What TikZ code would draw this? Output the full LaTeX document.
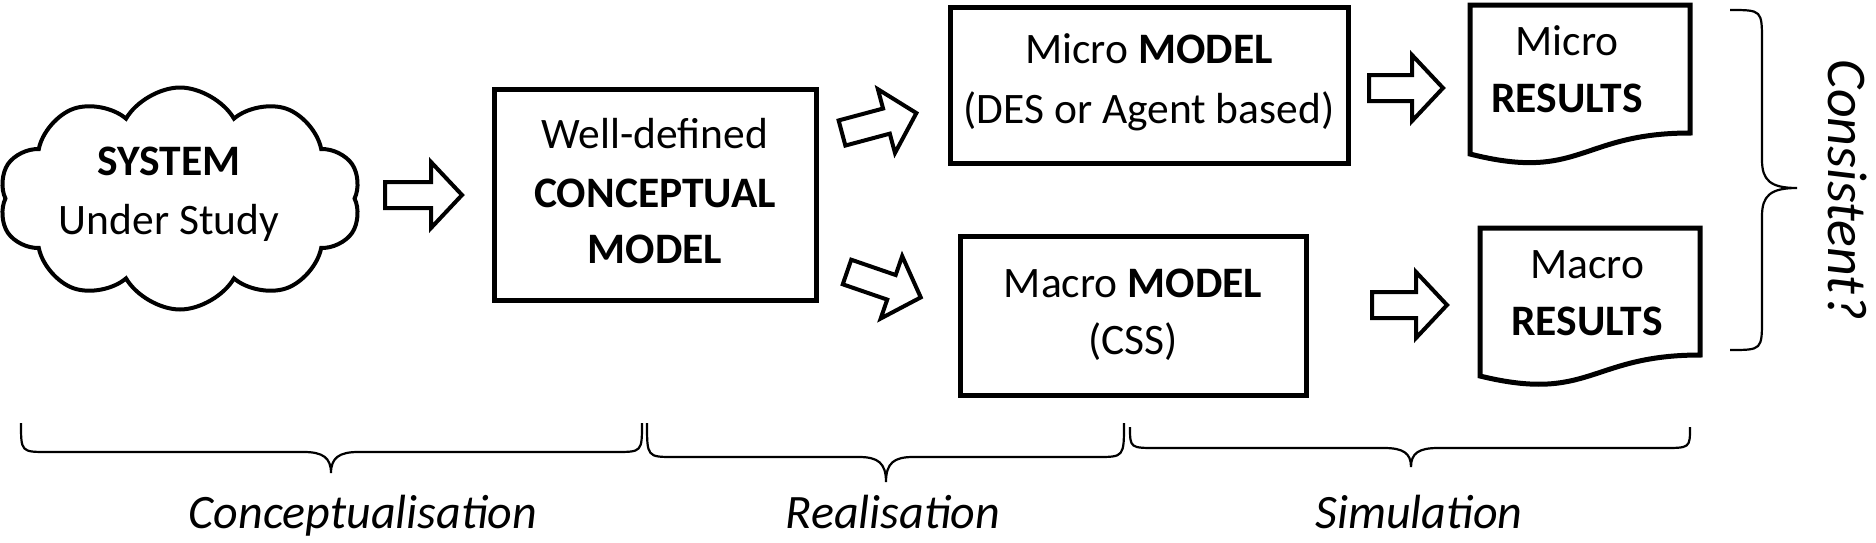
\documentclass[tikz,border=0pt]{standalone}
\usepackage{fontspec}
\setmainfont{Carlito}
\usetikzlibrary{shapes.symbols}
\newcommand\blockarrow[3]{\draw[blk, shift={(#1)}, rotate=#2] (0,-13) -- ({#3-31},-13) -- ({#3-31},-33) -- (#3,0) -- ({#3-31},33) -- ({#3-31},13) -- (0,13) -- cycle;}
\begin{document}
\begin{tikzpicture}[x=1pt,y=-1pt,
  box/.style={draw, line width=5pt, inner sep=0pt},
  doc/.style={draw, line width=5pt, line join=miter},
  blk/.style={draw, line width=4pt, line join=miter},
  brc/.style={draw, line width=2.2pt},
  lbl/.style={font=\fontsize{43.5}{52}\selectfont, anchor=base, inner sep=0pt},
  phase/.style={font=\fontsize{48}{56}\selectfont\itshape, anchor=base, inner sep=0pt}]
\useasboundingbox[fill=white] (0,0) rectangle (1876,542);

% cloud
\node[cloud, draw, line width=4pt, cloud puffs=10, cloud puff arc=120, aspect=1.6,
      minimum width=362pt, minimum height=222pt, inner sep=0pt] (sys) at (180,198.5) {};
\node[lbl] (sysa) at (169,175.5) {\textbf{SYSTEM}};
\node[lbl] (sysb) at (169,234) {Under Study};

% conceptual model
\node[box, minimum width=322pt, minimum height=211pt] (cm) at (655,194.5) {};
\node[lbl] (cma) at (655,148) {Well-defined};
\node[lbl] (cmb) at (655,207) {\textbf{CONCEPTUAL}};
\node[lbl] (cmc) at (655,263) {\textbf{MODEL}};

% micro model
\node[box, minimum width=398pt, minimum height=156pt] (mi) at (1149,85) {};
\node[lbl] (mia) at (1149,63) {Micro \textbf{MODEL}};
\node[lbl] (mib) at (1149,123) {(DES or Agent based)};

% macro model
\node[box, minimum width=346pt, minimum height=159pt] (ma) at (1133,315.5) {};
\node[lbl] (maa) at (1133,297) {Macro \textbf{MODEL}};
\node[lbl] (mab) at (1133,354) {(CSS)};

% results documents
\draw[doc] (1470,5) -- (1690,5) -- (1690,133) .. controls (1580,133) and (1580,182) .. (1470,154) -- cycle;
\node[lbl] (mra) at (1567,55) {Micro};
\node[lbl] (mrb) at (1567,112) {\textbf{RESULTS}};
\draw[doc] (1480,228) -- (1700,228) -- (1700,355) .. controls (1590,355) and (1590,403) .. (1480,376) -- cycle;
\node[lbl] (mca) at (1587,278) {Macro};
\node[lbl] (mcb) at (1587,335) {\textbf{RESULTS}};

% block arrows
\coordinate (a1) at (385,195);
\coordinate (a2) at (842,133);
\coordinate (a3) at (847,272);
\coordinate (a4) at (1369,88);
\coordinate (a5) at (1372,305);
\blockarrow{a1}{0}{77}
\blockarrow{a2}{15}{77}
\blockarrow{a3}{-19}{78}
\blockarrow{a4}{0}{74}
\blockarrow{a5}{0}{75}

% right brace
\draw[brc] (1730,10) .. controls (1762,10) .. (1762,42) -- (1762,160)
  .. controls (1762,180) and (1770,188) .. (1797,188)
  .. controls (1770,188) and (1762,196) .. (1762,216) -- (1762,318)
  .. controls (1762,350) .. (1730,350);
\node[font=\fontsize{56}{60}\selectfont\itshape, rotate=-90, inner sep=0pt] (cons) at (1848,190) {Consistent?};

% bottom braces
\draw[brc] (21,423) .. controls (21,452) .. (48,452) -- (304,452)
  .. controls (323,452) and (331,458) .. (331,473)
  .. controls (331,458) and (339,452) .. (358,452) -- (615,452)
  .. controls (642,452) .. (642,423);
\draw[brc] (647,423) .. controls (647,457) .. (674,457) -- (859,457)
  .. controls (878,457) and (886,463) .. (886,482)
  .. controls (886,463) and (894,457) .. (913,457) -- (1097,457)
  .. controls (1124,457) .. (1124,423);
\draw[brc] (1130,427) .. controls (1130,448) .. (1157,448) -- (1384,448)
  .. controls (1403,448) and (1411,453) .. (1411,467)
  .. controls (1411,453) and (1419,448) .. (1438,448) -- (1663,448)
  .. controls (1690,448) .. (1690,427);
\node[phase] (p1) at (363,528) {Conceptualisation};
\node[phase] (p2) at (893,528) {Realisation};
\node[phase] (p3) at (1419,528) {Simulation};
\end{tikzpicture}
\end{document}
